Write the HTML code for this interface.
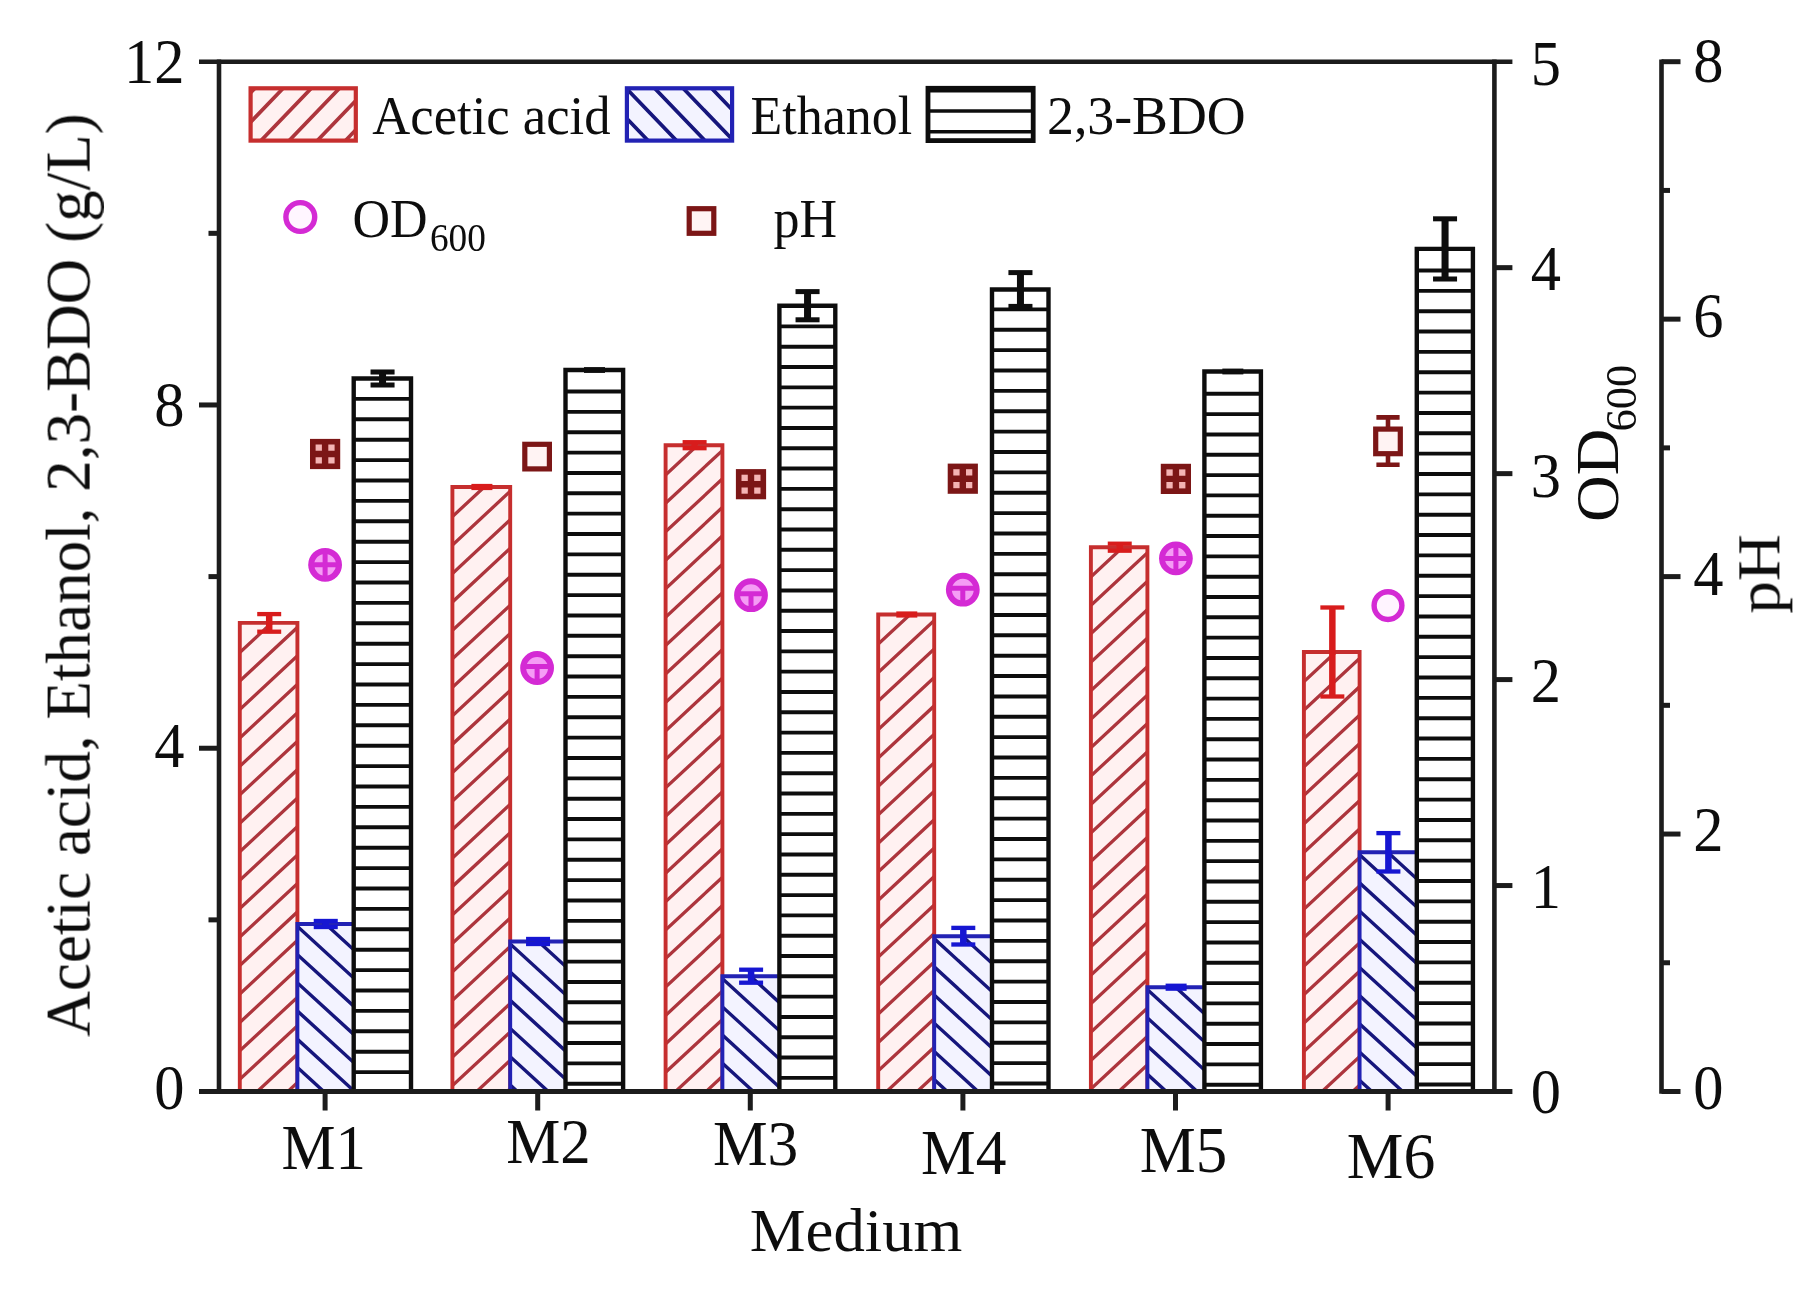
<!DOCTYPE html>
<html lang="en">
<head>
<meta charset="utf-8">
<title>Acetic acid, Ethanol, 2,3-BDO, OD600 and pH by medium</title>
<style>
html,body{margin:0;padding:0;background:#ffffff;}
body{width:1809px;height:1295px;overflow:hidden;}
svg{display:block;}
text{font-family:"Liberation Serif","Times New Roman",serif;fill:#111;}
</style>
</head>
<body>
<svg width="1809" height="1295" viewBox="0 0 1809 1295">
<defs><filter id="soft" x="0" y="0" width="1809" height="1295" filterUnits="userSpaceOnUse"><feGaussianBlur stdDeviation="0.6"/></filter></defs>
<rect x="0" y="0" width="1809" height="1295" fill="#ffffff"/>
<g filter="url(#soft)">

<g id="bars">
<rect x="239.80" y="622.90" width="57.60" height="468.60" fill="#fff1f1"/>
<clipPath id="c1"><rect x="239.80" y="622.90" width="57.60" height="468.60"/></clipPath>
<g clip-path="url(#c1)" stroke="#ad363c" stroke-width="3.3" fill="none">
<path d="M233.80 515.88L303.40 451.15M233.80 544.33L303.40 479.60M233.80 572.78L303.40 508.05M233.80 601.23L303.40 536.50M233.80 629.68L303.40 564.95M233.80 658.13L303.40 593.40M233.80 686.58L303.40 621.85M233.80 715.03L303.40 650.30M233.80 743.48L303.40 678.75M233.80 771.93L303.40 707.20M233.80 800.38L303.40 735.65M233.80 828.83L303.40 764.10M233.80 857.28L303.40 792.55M233.80 885.73L303.40 821.00M233.80 914.18L303.40 849.45M233.80 942.63L303.40 877.90M233.80 971.08L303.40 906.35M233.80 999.53L303.40 934.80M233.80 1027.98L303.40 963.25M233.80 1056.43L303.40 991.70M233.80 1084.88L303.40 1020.15M233.80 1113.33L303.40 1048.60M233.80 1141.78L303.40 1077.05"/>
</g>
<path d="M239.80 1091.50V622.90H297.40V1091.50" stroke="#c62f2f" stroke-width="3.9" fill="none"/>
<rect x="297.40" y="924.00" width="56.30" height="167.50" fill="#f3f3ff"/>
<clipPath id="c2"><rect x="297.40" y="924.00" width="56.30" height="167.50"/></clipPath>
<g clip-path="url(#c2)" stroke="#15157c" stroke-width="3.4" fill="none">
<path d="M291.40 808.11L359.70 870.60M291.40 836.31L359.70 898.80M291.40 864.51L359.70 927.00M291.40 892.71L359.70 955.20M291.40 920.91L359.70 983.40M291.40 949.11L359.70 1011.60M291.40 977.31L359.70 1039.80M291.40 1005.51L359.70 1068.00M291.40 1033.71L359.70 1096.20M291.40 1061.91L359.70 1124.40M291.40 1090.11L359.70 1152.60"/>
</g>
<path d="M297.40 1091.50V924.00H353.70" stroke="#2323b4" stroke-width="3.9" fill="none"/>
<rect x="353.70" y="378.50" width="57.30" height="713.00" fill="#ffffff" stroke="none"/>
<path d="M353.70 398.90H411.00M353.70 419.30H411.00M353.70 439.70H411.00M353.70 460.10H411.00M353.70 480.50H411.00M353.70 500.90H411.00M353.70 521.30H411.00M353.70 541.70H411.00M353.70 562.10H411.00M353.70 582.50H411.00M353.70 602.90H411.00M353.70 623.30H411.00M353.70 643.70H411.00M353.70 664.10H411.00M353.70 684.50H411.00M353.70 704.90H411.00M353.70 725.30H411.00M353.70 745.70H411.00M353.70 766.10H411.00M353.70 786.50H411.00M353.70 806.90H411.00M353.70 827.30H411.00M353.70 847.70H411.00M353.70 868.10H411.00M353.70 888.50H411.00M353.70 908.90H411.00M353.70 929.30H411.00M353.70 949.70H411.00M353.70 970.10H411.00M353.70 990.50H411.00M353.70 1010.90H411.00M353.70 1031.30H411.00M353.70 1051.70H411.00M353.70 1072.10H411.00" stroke="#111111" stroke-width="3.9" fill="none"/>
<path d="M353.70 1091.50V378.50H411.00V1091.50" stroke="#111111" stroke-width="4.4" fill="none" stroke-linejoin="miter"/>
<rect x="265.95" y="614.10" width="6.50" height="17.60" fill="#d81f1f"/>
<rect x="257.20" y="611.95" width="24.00" height="4.30" fill="#d81f1f"/>
<rect x="257.20" y="629.55" width="24.00" height="4.30" fill="#d81f1f"/>
<rect x="322.50" y="921.00" width="6.50" height="6.00" fill="#1414d2"/>
<rect x="313.75" y="918.85" width="24.00" height="4.30" fill="#1414d2"/>
<rect x="313.75" y="924.85" width="24.00" height="4.30" fill="#1414d2"/>
<rect x="379.05" y="372.00" width="7.00" height="13.00" fill="#0a0a0a"/>
<rect x="370.55" y="369.50" width="24.00" height="5.00" fill="#0a0a0a"/>
<rect x="370.55" y="382.50" width="24.00" height="5.00" fill="#0a0a0a"/>
<rect x="452.40" y="487.00" width="57.80" height="604.50" fill="#fff1f1"/>
<clipPath id="c3"><rect x="452.40" y="487.00" width="57.80" height="604.50"/></clipPath>
<g clip-path="url(#c3)" stroke="#ad363c" stroke-width="3.3" fill="none">
<path d="M446.40 379.98L516.20 315.07M446.40 408.43L516.20 343.52M446.40 436.88L516.20 371.97M446.40 465.33L516.20 400.42M446.40 493.78L516.20 428.87M446.40 522.23L516.20 457.32M446.40 550.68L516.20 485.77M446.40 579.13L516.20 514.22M446.40 607.58L516.20 542.67M446.40 636.03L516.20 571.12M446.40 664.48L516.20 599.57M446.40 692.93L516.20 628.02M446.40 721.38L516.20 656.47M446.40 749.83L516.20 684.92M446.40 778.28L516.20 713.37M446.40 806.73L516.20 741.82M446.40 835.18L516.20 770.27M446.40 863.63L516.20 798.72M446.40 892.08L516.20 827.17M446.40 920.53L516.20 855.62M446.40 948.98L516.20 884.07M446.40 977.43L516.20 912.52M446.40 1005.88L516.20 940.97M446.40 1034.33L516.20 969.42M446.40 1062.78L516.20 997.87M446.40 1091.23L516.20 1026.32M446.40 1119.68L516.20 1054.77M446.40 1148.13L516.20 1083.22"/>
</g>
<path d="M452.40 1091.50V487.00H510.20V1091.50" stroke="#c62f2f" stroke-width="3.9" fill="none"/>
<rect x="510.20" y="941.50" width="55.30" height="150.00" fill="#f3f3ff"/>
<clipPath id="c4"><rect x="510.20" y="941.50" width="55.30" height="150.00"/></clipPath>
<g clip-path="url(#c4)" stroke="#15157c" stroke-width="3.4" fill="none">
<path d="M504.20 825.61L571.50 887.19M504.20 853.81L571.50 915.39M504.20 882.01L571.50 943.59M504.20 910.21L571.50 971.79M504.20 938.41L571.50 999.99M504.20 966.61L571.50 1028.19M504.20 994.81L571.50 1056.39M504.20 1023.01L571.50 1084.59M504.20 1051.21L571.50 1112.79M504.20 1079.41L571.50 1140.99"/>
</g>
<path d="M510.20 1091.50V941.50H565.50" stroke="#2323b4" stroke-width="3.9" fill="none"/>
<rect x="565.50" y="370.00" width="57.60" height="721.50" fill="#ffffff" stroke="none"/>
<path d="M565.50 391.50H623.10M565.50 411.86H623.10M565.50 432.22H623.10M565.50 452.58H623.10M565.50 472.94H623.10M565.50 493.30H623.10M565.50 513.66H623.10M565.50 534.02H623.10M565.50 554.38H623.10M565.50 574.74H623.10M565.50 595.10H623.10M565.50 615.46H623.10M565.50 635.82H623.10M565.50 656.18H623.10M565.50 676.54H623.10M565.50 696.90H623.10M565.50 717.26H623.10M565.50 737.62H623.10M565.50 757.98H623.10M565.50 778.34H623.10M565.50 798.70H623.10M565.50 819.06H623.10M565.50 839.42H623.10M565.50 859.78H623.10M565.50 880.14H623.10M565.50 900.50H623.10M565.50 920.86H623.10M565.50 941.22H623.10M565.50 961.58H623.10M565.50 981.94H623.10M565.50 1002.30H623.10M565.50 1022.66H623.10M565.50 1043.02H623.10M565.50 1063.38H623.10M565.50 1083.74H623.10" stroke="#111111" stroke-width="3.9" fill="none"/>
<path d="M565.50 1091.50V370.00H623.10V1091.50" stroke="#111111" stroke-width="4.4" fill="none" stroke-linejoin="miter"/>
<rect x="471.40" y="483.90" width="21.00" height="6.20" fill="#d81f1f"/>
<rect x="534.80" y="939.00" width="6.50" height="5.00" fill="#1414d2"/>
<rect x="526.05" y="936.85" width="24.00" height="4.30" fill="#1414d2"/>
<rect x="526.05" y="941.85" width="24.00" height="4.30" fill="#1414d2"/>
<rect x="584.00" y="367.10" width="21.00" height="5.80" fill="#0a0a0a"/>
<rect x="665.60" y="445.20" width="56.80" height="646.30" fill="#fff1f1"/>
<clipPath id="c5"><rect x="665.60" y="445.20" width="56.80" height="646.30"/></clipPath>
<g clip-path="url(#c5)" stroke="#ad363c" stroke-width="3.3" fill="none">
<path d="M659.60 338.18L728.40 274.20M659.60 366.63L728.40 302.65M659.60 395.08L728.40 331.10M659.60 423.53L728.40 359.55M659.60 451.98L728.40 388.00M659.60 480.43L728.40 416.45M659.60 508.88L728.40 444.90M659.60 537.33L728.40 473.35M659.60 565.78L728.40 501.80M659.60 594.23L728.40 530.25M659.60 622.68L728.40 558.70M659.60 651.13L728.40 587.15M659.60 679.58L728.40 615.60M659.60 708.03L728.40 644.05M659.60 736.48L728.40 672.50M659.60 764.93L728.40 700.95M659.60 793.38L728.40 729.40M659.60 821.83L728.40 757.85M659.60 850.28L728.40 786.30M659.60 878.73L728.40 814.75M659.60 907.18L728.40 843.20M659.60 935.63L728.40 871.65M659.60 964.08L728.40 900.10M659.60 992.53L728.40 928.55M659.60 1020.98L728.40 957.00M659.60 1049.43L728.40 985.45M659.60 1077.88L728.40 1013.90M659.60 1106.33L728.40 1042.35M659.60 1134.78L728.40 1070.80"/>
</g>
<path d="M665.60 1091.50V445.20H722.40V1091.50" stroke="#c62f2f" stroke-width="3.9" fill="none"/>
<rect x="722.40" y="976.20" width="57.00" height="115.30" fill="#f3f3ff"/>
<clipPath id="c6"><rect x="722.40" y="976.20" width="57.00" height="115.30"/></clipPath>
<g clip-path="url(#c6)" stroke="#15157c" stroke-width="3.4" fill="none">
<path d="M716.40 860.31L785.40 923.45M716.40 888.51L785.40 951.64M716.40 916.71L785.40 979.85M716.40 944.91L785.40 1008.04M716.40 973.11L785.40 1036.25M716.40 1001.31L785.40 1064.45M716.40 1029.51L785.40 1092.64M716.40 1057.71L785.40 1120.85M716.40 1085.91L785.40 1149.05"/>
</g>
<path d="M722.40 1091.50V976.20H779.40" stroke="#2323b4" stroke-width="3.9" fill="none"/>
<rect x="779.40" y="305.70" width="55.90" height="785.80" fill="#ffffff" stroke="none"/>
<path d="M779.40 326.40H835.30M779.40 346.71H835.30M779.40 367.02H835.30M779.40 387.33H835.30M779.40 407.64H835.30M779.40 427.95H835.30M779.40 448.26H835.30M779.40 468.57H835.30M779.40 488.88H835.30M779.40 509.19H835.30M779.40 529.50H835.30M779.40 549.81H835.30M779.40 570.12H835.30M779.40 590.43H835.30M779.40 610.74H835.30M779.40 631.05H835.30M779.40 651.36H835.30M779.40 671.67H835.30M779.40 691.98H835.30M779.40 712.29H835.30M779.40 732.60H835.30M779.40 752.91H835.30M779.40 773.22H835.30M779.40 793.53H835.30M779.40 813.84H835.30M779.40 834.15H835.30M779.40 854.46H835.30M779.40 874.77H835.30M779.40 895.08H835.30M779.40 915.39H835.30M779.40 935.70H835.30M779.40 956.01H835.30M779.40 976.32H835.30M779.40 996.63H835.30M779.40 1016.94H835.30M779.40 1037.25H835.30M779.40 1057.56H835.30M779.40 1077.87H835.30" stroke="#111111" stroke-width="3.9" fill="none"/>
<path d="M779.40 1091.50V305.70H835.30V1091.50" stroke="#111111" stroke-width="4.4" fill="none" stroke-linejoin="miter"/>
<rect x="691.35" y="442.20" width="6.50" height="6.00" fill="#d81f1f"/>
<rect x="682.60" y="440.05" width="24.00" height="4.30" fill="#d81f1f"/>
<rect x="682.60" y="446.05" width="24.00" height="4.30" fill="#d81f1f"/>
<rect x="747.85" y="969.70" width="6.50" height="13.00" fill="#1414d2"/>
<rect x="739.10" y="967.55" width="24.00" height="4.30" fill="#1414d2"/>
<rect x="739.10" y="980.55" width="24.00" height="4.30" fill="#1414d2"/>
<rect x="804.05" y="291.60" width="7.00" height="28.20" fill="#0a0a0a"/>
<rect x="795.55" y="289.10" width="24.00" height="5.00" fill="#0a0a0a"/>
<rect x="795.55" y="317.30" width="24.00" height="5.00" fill="#0a0a0a"/>
<rect x="878.20" y="614.50" width="56.00" height="477.00" fill="#fff1f1"/>
<clipPath id="c7"><rect x="878.20" y="614.50" width="56.00" height="477.00"/></clipPath>
<g clip-path="url(#c7)" stroke="#ad363c" stroke-width="3.3" fill="none">
<path d="M872.20 507.48L940.20 444.24M872.20 535.93L940.20 472.69M872.20 564.38L940.20 501.14M872.20 592.83L940.20 529.59M872.20 621.28L940.20 558.04M872.20 649.73L940.20 586.49M872.20 678.18L940.20 614.94M872.20 706.63L940.20 643.39M872.20 735.08L940.20 671.84M872.20 763.53L940.20 700.29M872.20 791.98L940.20 728.74M872.20 820.43L940.20 757.19M872.20 848.88L940.20 785.64M872.20 877.33L940.20 814.09M872.20 905.78L940.20 842.54M872.20 934.23L940.20 870.99M872.20 962.68L940.20 899.44M872.20 991.13L940.20 927.89M872.20 1019.58L940.20 956.34M872.20 1048.03L940.20 984.79M872.20 1076.48L940.20 1013.24M872.20 1104.93L940.20 1041.69M872.20 1133.38L940.20 1070.14"/>
</g>
<path d="M878.20 1091.50V614.50H934.20V1091.50" stroke="#c62f2f" stroke-width="3.9" fill="none"/>
<rect x="934.20" y="936.20" width="57.80" height="155.30" fill="#f3f3ff"/>
<clipPath id="c8"><rect x="934.20" y="936.20" width="57.80" height="155.30"/></clipPath>
<g clip-path="url(#c8)" stroke="#15157c" stroke-width="3.4" fill="none">
<path d="M928.20 820.31L998.00 884.18M928.20 848.51L998.00 912.38M928.20 876.71L998.00 940.58M928.20 904.91L998.00 968.78M928.20 933.11L998.00 996.98M928.20 961.31L998.00 1025.18M928.20 989.51L998.00 1053.38M928.20 1017.71L998.00 1081.58M928.20 1045.91L998.00 1109.78M928.20 1074.11L998.00 1137.98"/>
</g>
<path d="M934.20 1091.50V936.20H992.00" stroke="#2323b4" stroke-width="3.9" fill="none"/>
<rect x="992.00" y="289.50" width="56.50" height="802.00" fill="#ffffff" stroke="none"/>
<path d="M992.00 309.40H1048.50M992.00 329.77H1048.50M992.00 350.14H1048.50M992.00 370.51H1048.50M992.00 390.88H1048.50M992.00 411.25H1048.50M992.00 431.62H1048.50M992.00 451.99H1048.50M992.00 472.36H1048.50M992.00 492.73H1048.50M992.00 513.10H1048.50M992.00 533.47H1048.50M992.00 553.84H1048.50M992.00 574.21H1048.50M992.00 594.58H1048.50M992.00 614.95H1048.50M992.00 635.32H1048.50M992.00 655.69H1048.50M992.00 676.06H1048.50M992.00 696.43H1048.50M992.00 716.80H1048.50M992.00 737.17H1048.50M992.00 757.54H1048.50M992.00 777.91H1048.50M992.00 798.28H1048.50M992.00 818.65H1048.50M992.00 839.02H1048.50M992.00 859.39H1048.50M992.00 879.76H1048.50M992.00 900.13H1048.50M992.00 920.50H1048.50M992.00 940.87H1048.50M992.00 961.24H1048.50M992.00 981.61H1048.50M992.00 1001.98H1048.50M992.00 1022.35H1048.50M992.00 1042.72H1048.50M992.00 1063.09H1048.50M992.00 1083.46H1048.50" stroke="#111111" stroke-width="3.9" fill="none"/>
<path d="M992.00 1091.50V289.50H1048.50V1091.50" stroke="#111111" stroke-width="4.4" fill="none" stroke-linejoin="miter"/>
<rect x="896.30" y="611.40" width="21.00" height="6.20" fill="#d81f1f"/>
<rect x="960.05" y="927.90" width="6.50" height="16.60" fill="#1414d2"/>
<rect x="951.30" y="925.75" width="24.00" height="4.30" fill="#1414d2"/>
<rect x="951.30" y="942.35" width="24.00" height="4.30" fill="#1414d2"/>
<rect x="1016.95" y="272.60" width="7.00" height="33.80" fill="#0a0a0a"/>
<rect x="1008.45" y="270.10" width="24.00" height="5.00" fill="#0a0a0a"/>
<rect x="1008.45" y="303.90" width="24.00" height="5.00" fill="#0a0a0a"/>
<rect x="1090.90" y="547.20" width="56.50" height="544.30" fill="#fff1f1"/>
<clipPath id="c9"><rect x="1090.90" y="547.20" width="56.50" height="544.30"/></clipPath>
<g clip-path="url(#c9)" stroke="#ad363c" stroke-width="3.3" fill="none">
<path d="M1084.90 440.18L1153.40 376.48M1084.90 468.63L1153.40 404.93M1084.90 497.08L1153.40 433.38M1084.90 525.53L1153.40 461.83M1084.90 553.98L1153.40 490.28M1084.90 582.43L1153.40 518.73M1084.90 610.88L1153.40 547.18M1084.90 639.33L1153.40 575.63M1084.90 667.78L1153.40 604.08M1084.90 696.23L1153.40 632.53M1084.90 724.68L1153.40 660.98M1084.90 753.13L1153.40 689.43M1084.90 781.58L1153.40 717.88M1084.90 810.03L1153.40 746.33M1084.90 838.48L1153.40 774.78M1084.90 866.93L1153.40 803.23M1084.90 895.38L1153.40 831.68M1084.90 923.83L1153.40 860.12M1084.90 952.28L1153.40 888.58M1084.90 980.73L1153.40 917.03M1084.90 1009.18L1153.40 945.48M1084.90 1037.63L1153.40 973.93M1084.90 1066.08L1153.40 1002.38M1084.90 1094.53L1153.40 1030.83M1084.90 1122.98L1153.40 1059.28M1084.90 1151.43L1153.40 1087.72"/>
</g>
<path d="M1090.90 1091.50V547.20H1147.40V1091.50" stroke="#c62f2f" stroke-width="3.9" fill="none"/>
<rect x="1147.40" y="987.20" width="57.00" height="104.30" fill="#f3f3ff"/>
<clipPath id="c10"><rect x="1147.40" y="987.20" width="57.00" height="104.30"/></clipPath>
<g clip-path="url(#c10)" stroke="#15157c" stroke-width="3.4" fill="none">
<path d="M1141.40 871.31L1210.40 934.45M1141.40 899.51L1210.40 962.64M1141.40 927.71L1210.40 990.85M1141.40 955.91L1210.40 1019.04M1141.40 984.11L1210.40 1047.25M1141.40 1012.31L1210.40 1075.45M1141.40 1040.51L1210.40 1103.64M1141.40 1068.71L1210.40 1131.85"/>
</g>
<path d="M1147.40 1091.50V987.20H1204.40" stroke="#2323b4" stroke-width="3.9" fill="none"/>
<rect x="1204.40" y="371.50" width="56.50" height="720.00" fill="#ffffff" stroke="none"/>
<path d="M1204.40 393.80H1260.90M1204.40 414.12H1260.90M1204.40 434.44H1260.90M1204.40 454.76H1260.90M1204.40 475.08H1260.90M1204.40 495.40H1260.90M1204.40 515.72H1260.90M1204.40 536.04H1260.90M1204.40 556.36H1260.90M1204.40 576.68H1260.90M1204.40 597.00H1260.90M1204.40 617.32H1260.90M1204.40 637.64H1260.90M1204.40 657.96H1260.90M1204.40 678.28H1260.90M1204.40 698.60H1260.90M1204.40 718.92H1260.90M1204.40 739.24H1260.90M1204.40 759.56H1260.90M1204.40 779.88H1260.90M1204.40 800.20H1260.90M1204.40 820.52H1260.90M1204.40 840.84H1260.90M1204.40 861.16H1260.90M1204.40 881.48H1260.90M1204.40 901.80H1260.90M1204.40 922.12H1260.90M1204.40 942.44H1260.90M1204.40 962.76H1260.90M1204.40 983.08H1260.90M1204.40 1003.40H1260.90M1204.40 1023.72H1260.90M1204.40 1044.04H1260.90M1204.40 1064.36H1260.90M1204.40 1084.68H1260.90" stroke="#111111" stroke-width="3.9" fill="none"/>
<path d="M1204.40 1091.50V371.50H1260.90V1091.50" stroke="#111111" stroke-width="4.4" fill="none" stroke-linejoin="miter"/>
<rect x="1116.50" y="543.70" width="6.50" height="7.00" fill="#d81f1f"/>
<rect x="1107.75" y="541.55" width="24.00" height="4.30" fill="#d81f1f"/>
<rect x="1107.75" y="548.55" width="24.00" height="4.30" fill="#d81f1f"/>
<rect x="1165.60" y="983.60" width="21.00" height="7.20" fill="#1414d2"/>
<rect x="1222.35" y="368.60" width="21.00" height="5.80" fill="#0a0a0a"/>
<rect x="1303.90" y="652.00" width="55.70" height="439.50" fill="#fff1f1"/>
<clipPath id="c11"><rect x="1303.90" y="652.00" width="55.70" height="439.50"/></clipPath>
<g clip-path="url(#c11)" stroke="#ad363c" stroke-width="3.3" fill="none">
<path d="M1297.90 544.98L1365.60 482.02M1297.90 573.43L1365.60 510.47M1297.90 601.88L1365.60 538.92M1297.90 630.33L1365.60 567.37M1297.90 658.78L1365.60 595.82M1297.90 687.23L1365.60 624.27M1297.90 715.68L1365.60 652.72M1297.90 744.13L1365.60 681.17M1297.90 772.58L1365.60 709.62M1297.90 801.03L1365.60 738.07M1297.90 829.48L1365.60 766.52M1297.90 857.93L1365.60 794.97M1297.90 886.38L1365.60 823.42M1297.90 914.83L1365.60 851.87M1297.90 943.28L1365.60 880.32M1297.90 971.73L1365.60 908.77M1297.90 1000.18L1365.60 937.22M1297.90 1028.63L1365.60 965.67M1297.90 1057.08L1365.60 994.12M1297.90 1085.53L1365.60 1022.57M1297.90 1113.98L1365.60 1051.02M1297.90 1142.43L1365.60 1079.47"/>
</g>
<path d="M1303.90 1091.50V652.00H1359.60V1091.50" stroke="#c62f2f" stroke-width="3.9" fill="none"/>
<rect x="1359.60" y="852.30" width="57.20" height="239.20" fill="#f3f3ff"/>
<clipPath id="c12"><rect x="1359.60" y="852.30" width="57.20" height="239.20"/></clipPath>
<g clip-path="url(#c12)" stroke="#15157c" stroke-width="3.4" fill="none">
<path d="M1353.60 736.41L1422.80 799.73M1353.60 764.61L1422.80 827.93M1353.60 792.81L1422.80 856.13M1353.60 821.01L1422.80 884.33M1353.60 849.21L1422.80 912.53M1353.60 877.41L1422.80 940.73M1353.60 905.61L1422.80 968.93M1353.60 933.81L1422.80 997.13M1353.60 962.01L1422.80 1025.33M1353.60 990.21L1422.80 1053.53M1353.60 1018.41L1422.80 1081.73M1353.60 1046.61L1422.80 1109.93M1353.60 1074.81L1422.80 1138.13"/>
</g>
<path d="M1359.60 1091.50V852.30H1416.80" stroke="#2323b4" stroke-width="3.9" fill="none"/>
<rect x="1416.80" y="248.90" width="56.10" height="842.60" fill="#ffffff" stroke="none"/>
<path d="M1416.80 270.50H1472.90M1416.80 290.85H1472.90M1416.80 311.20H1472.90M1416.80 331.55H1472.90M1416.80 351.90H1472.90M1416.80 372.25H1472.90M1416.80 392.60H1472.90M1416.80 412.95H1472.90M1416.80 433.30H1472.90M1416.80 453.65H1472.90M1416.80 474.00H1472.90M1416.80 494.35H1472.90M1416.80 514.70H1472.90M1416.80 535.05H1472.90M1416.80 555.40H1472.90M1416.80 575.75H1472.90M1416.80 596.10H1472.90M1416.80 616.45H1472.90M1416.80 636.80H1472.90M1416.80 657.15H1472.90M1416.80 677.50H1472.90M1416.80 697.85H1472.90M1416.80 718.20H1472.90M1416.80 738.55H1472.90M1416.80 758.90H1472.90M1416.80 779.25H1472.90M1416.80 799.60H1472.90M1416.80 819.95H1472.90M1416.80 840.30H1472.90M1416.80 860.65H1472.90M1416.80 881.00H1472.90M1416.80 901.35H1472.90M1416.80 921.70H1472.90M1416.80 942.05H1472.90M1416.80 962.40H1472.90M1416.80 982.75H1472.90M1416.80 1003.10H1472.90M1416.80 1023.45H1472.90M1416.80 1043.80H1472.90M1416.80 1064.15H1472.90M1416.80 1084.50H1472.90" stroke="#111111" stroke-width="3.9" fill="none"/>
<path d="M1416.80 1091.50V248.90H1472.90V1091.50" stroke="#111111" stroke-width="4.4" fill="none" stroke-linejoin="miter"/>
<rect x="1329.10" y="607.50" width="6.50" height="89.00" fill="#d81f1f"/>
<rect x="1320.35" y="605.35" width="24.00" height="4.30" fill="#d81f1f"/>
<rect x="1320.35" y="694.35" width="24.00" height="4.30" fill="#d81f1f"/>
<rect x="1385.15" y="833.10" width="6.50" height="38.40" fill="#1414d2"/>
<rect x="1376.40" y="830.95" width="24.00" height="4.30" fill="#1414d2"/>
<rect x="1376.40" y="869.35" width="24.00" height="4.30" fill="#1414d2"/>
<rect x="1441.55" y="218.80" width="7.00" height="60.20" fill="#0a0a0a"/>
<rect x="1433.05" y="216.30" width="24.00" height="5.00" fill="#0a0a0a"/>
<rect x="1433.05" y="276.50" width="24.00" height="5.00" fill="#0a0a0a"/>
</g>
<g id="markers">
<rect x="312.80" y="441.70" width="24.6" height="24.6" fill="#f4b4b4" stroke="#7c1616" stroke-width="5.6"/>
<path d="M312.80 454.00H337.40M325.10 441.70V466.30" stroke="#7c1616" stroke-width="6.4" fill="none"/>
<circle cx="325.10" cy="564.80" r="13.9" fill="#f59cf5" stroke="#d42ad4" stroke-width="6.0"/>
<path d="M311.20 564.80H339.00M325.10 550.90V578.70" stroke="#d42ad4" stroke-width="5.0" fill="none"/>
<rect x="524.80" y="444.30" width="24.6" height="24.6" fill="#fff3f3" stroke="#7c1616" stroke-width="5.2"/>
<circle cx="537.10" cy="668.00" r="13.9" fill="#f59cf5" stroke="#d42ad4" stroke-width="6.0"/>
<path d="M523.20 666.50H551.00M537.10 666.50V681.90" stroke="#d42ad4" stroke-width="5.0" fill="none"/>
<rect x="738.70" y="471.90" width="24.6" height="24.6" fill="#f4b4b4" stroke="#7c1616" stroke-width="5.6"/>
<path d="M738.70 484.20H763.30M751.00 471.90V496.50" stroke="#7c1616" stroke-width="6.4" fill="none"/>
<circle cx="751.00" cy="595.20" r="13.9" fill="#f59cf5" stroke="#d42ad4" stroke-width="6.0"/>
<path d="M737.10 593.70H764.90M751.00 593.70V609.10" stroke="#d42ad4" stroke-width="5.0" fill="none"/>
<rect x="950.50" y="466.40" width="24.6" height="24.6" fill="#f4b4b4" stroke="#7c1616" stroke-width="5.6"/>
<path d="M950.50 478.70H975.10M962.80 466.40V491.00" stroke="#7c1616" stroke-width="6.4" fill="none"/>
<circle cx="962.80" cy="589.70" r="13.9" fill="#f59cf5" stroke="#d42ad4" stroke-width="6.0"/>
<path d="M948.90 588.20H976.70M962.80 588.20V603.60" stroke="#d42ad4" stroke-width="5.0" fill="none"/>
<rect x="1163.60" y="466.60" width="24.6" height="24.6" fill="#f4b4b4" stroke="#7c1616" stroke-width="5.6"/>
<path d="M1163.60 478.90H1188.20M1175.90 466.60V491.20" stroke="#7c1616" stroke-width="6.4" fill="none"/>
<circle cx="1175.90" cy="558.40" r="13.9" fill="#f59cf5" stroke="#d42ad4" stroke-width="6.0"/>
<path d="M1162.00 558.40H1189.80M1175.90 544.50V572.30" stroke="#d42ad4" stroke-width="5.0" fill="none"/>
<path d="M1388.00 417.40V464.90M1376.40 417.40H1399.60M1376.40 464.70H1399.60" stroke="#7c1616" stroke-width="4.6" fill="none"/>
<rect x="1375.70" y="429.10" width="24.6" height="24.6" fill="#fff3f3" stroke="#7c1616" stroke-width="5.2"/>
<circle cx="1388.00" cy="605.60" r="13.9" fill="#fff4ff" stroke="#d42ad4" stroke-width="5.4"/>
</g>
<g id="axes" stroke="#1c1c1c" fill="none" stroke-width="4.6">
<path d="M219.00 59.40V1093.80"/>
<path d="M199.00 61.70H1512.40"/>
<path d="M199.00 1091.50H1512.40" stroke-width="5.2"/>
<path d="M199.00 748.23H219.00" stroke-width="5.0"/>
<path d="M199.00 404.97H219.00" stroke-width="5.0"/>
<path d="M208.50 919.87H219.00" stroke-width="5.0"/>
<path d="M208.50 576.60H219.00" stroke-width="5.0"/>
<path d="M208.50 233.33H219.00" stroke-width="5.0"/>
<path d="M1494.40 59.40V1093.80"/>
<path d="M1494.40 885.54H1512.40" stroke-width="5.0"/>
<path d="M1494.40 679.58H1512.40" stroke-width="5.0"/>
<path d="M1494.40 473.62H1512.40" stroke-width="5.0"/>
<path d="M1494.40 267.66H1512.40" stroke-width="5.0"/>
<path d="M1661.50 59.40V1093.80"/>
<path d="M1661.50 1091.50H1680.50" stroke-width="5.0"/>
<path d="M1661.50 834.05H1680.50" stroke-width="5.0"/>
<path d="M1661.50 576.60H1680.50" stroke-width="5.0"/>
<path d="M1661.50 319.15H1680.50" stroke-width="5.0"/>
<path d="M1661.50 61.70H1680.50" stroke-width="5.0"/>
<path d="M1661.50 962.77H1670.00" stroke-width="5.0"/>
<path d="M1661.50 705.33H1670.00" stroke-width="5.0"/>
<path d="M1661.50 447.88H1670.00" stroke-width="5.0"/>
<path d="M1661.50 190.43H1670.00" stroke-width="5.0"/>
<path d="M325.10 1091.50V1110.50" stroke-width="5.0"/>
<path d="M537.70 1091.50V1110.50" stroke-width="5.0"/>
<path d="M750.30 1091.50V1110.50" stroke-width="5.0"/>
<path d="M962.90 1091.50V1110.50" stroke-width="5.0"/>
<path d="M1175.50 1091.50V1110.50" stroke-width="5.0"/>
<path d="M1388.10 1091.50V1110.50" stroke-width="5.0"/>
</g>
<g id="labels">
<text transform="translate(184.50 83.00) scale(0.945 1)" font-size="64" text-anchor="end">12</text>
<text transform="translate(184.50 425.50) scale(0.945 1)" font-size="64" text-anchor="end">8</text>
<text transform="translate(184.50 767.00) scale(0.945 1)" font-size="64" text-anchor="end">4</text>
<text transform="translate(184.50 1109.00) scale(0.945 1)" font-size="64" text-anchor="end">0</text>
<text transform="translate(1530.80 84.50) scale(0.945 1)" font-size="64" text-anchor="start">5</text>
<text transform="translate(1530.80 290.40) scale(0.945 1)" font-size="64" text-anchor="start">4</text>
<text transform="translate(1530.80 497.30) scale(0.945 1)" font-size="64" text-anchor="start">3</text>
<text transform="translate(1530.80 701.90) scale(0.945 1)" font-size="64" text-anchor="start">2</text>
<text transform="translate(1530.80 908.20) scale(0.945 1)" font-size="64" text-anchor="start">1</text>
<text transform="translate(1530.80 1113.00) scale(0.945 1)" font-size="64" text-anchor="start">0</text>
<text transform="translate(1693.20 82.00) scale(0.945 1)" font-size="64" text-anchor="start">8</text>
<text transform="translate(1693.20 337.30) scale(0.945 1)" font-size="64" text-anchor="start">6</text>
<text transform="translate(1693.20 594.70) scale(0.945 1)" font-size="64" text-anchor="start">4</text>
<text transform="translate(1693.20 851.40) scale(0.945 1)" font-size="64" text-anchor="start">2</text>
<text transform="translate(1693.20 1108.80) scale(0.945 1)" font-size="64" text-anchor="start">0</text>
<text transform="translate(281.40 1169.40) scale(0.95 1)" font-size="64" text-anchor="start">M1</text>
<text transform="translate(506.20 1163.10) scale(0.95 1)" font-size="64" text-anchor="start">M2</text>
<text transform="translate(713.00 1165.30) scale(0.96 1)" font-size="64" text-anchor="start">M3</text>
<text transform="translate(921.10 1173.90) scale(0.96 1)" font-size="64" text-anchor="start">M4</text>
<text transform="translate(1139.80 1172.00) scale(0.955 1)" font-size="66" text-anchor="start">M5</text>
<text transform="translate(1346.80 1178.40) scale(0.965 1)" font-size="66" text-anchor="start">M6</text>
<text transform="translate(749.80 1251.00) scale(1.012 1)" font-size="62.0" text-anchor="start">Medium</text>
<text transform="translate(89.60 1036.60) scale(1.0 1) rotate(-90)" font-size="63.1" text-anchor="start">Acetic acid, Ethanol, 2,3-BDO (g/L)</text>
<text transform="translate(1618.00 522.00) scale(0.945 1) rotate(-90)" font-size="64.6" text-anchor="start">OD</text>
<text transform="translate(1636.00 431.60) scale(1.0 1) rotate(-90)" font-size="44.5" text-anchor="start">600</text>
<text transform="translate(1779.20 613.60) scale(0.945 1) rotate(-90)" font-size="65" text-anchor="start">pH</text>
</g>
<g id="legend">
<rect x="250.6" y="88.3" width="105.2" height="52.3" fill="#fff1f1"/>
<clipPath id="c13"><rect x="250.60" y="88.30" width="105.20" height="52.30"/></clipPath>
<g clip-path="url(#c13)" stroke="#ad363c" stroke-width="3.7" fill="none">
<path d="M244.60 -18.16L361.80 -140.05M244.60 11.14L361.80 -110.75M244.60 40.44L361.80 -81.45M244.60 69.74L361.80 -52.15M244.60 99.04L361.80 -22.85M244.60 128.34L361.80 6.45M244.60 157.64L361.80 35.75M244.60 186.94L361.80 65.05M244.60 216.24L361.80 94.35M244.60 245.54L361.80 123.65"/>
</g>
<rect x="250.6" y="88.3" width="105.2" height="52.3" fill="none" stroke="#c62f2f" stroke-width="4.2"/>
<rect x="626.9" y="88.3" width="105.2" height="52.3" fill="#f3f3ff"/>
<clipPath id="c14"><rect x="626.90" y="88.30" width="105.20" height="52.30"/></clipPath>
<g clip-path="url(#c14)" stroke="#15157c" stroke-width="3.7" fill="none">
<path d="M620.90 -35.64L738.10 86.25M620.90 -6.04L738.10 115.85M620.90 23.56L738.10 145.45M620.90 53.16L738.10 175.05M620.90 82.76L738.10 204.65M620.90 112.36L738.10 234.25"/>
</g>
<rect x="626.9" y="88.3" width="105.2" height="52.3" fill="none" stroke="#2323b4" stroke-width="4.2"/>
<rect x="928.0" y="88.3" width="105.2" height="52.3" fill="#ffffff"/>
<path d="M928.0 111.0H1033.2M928.0 131.8H1033.2" stroke="#111111" stroke-width="3.6" fill="none"/>
<rect x="928.0" y="88.3" width="105.2" height="52.3" fill="none" stroke="#111111" stroke-width="4.8"/>
<path d="M928.0 90.89999999999999H1033.2" stroke="#111111" stroke-width="3.0" fill="none"/>
<text transform="translate(372.30 134.20) scale(0.957 1)" font-size="55" text-anchor="start">Acetic acid</text>
<text transform="translate(750.50 134.20) scale(0.945 1)" font-size="55" text-anchor="start">Ethanol</text>
<text transform="translate(1047.00 134.20) scale(0.978 1)" font-size="55" text-anchor="start">2,3-BDO</text>
<circle cx="300.3" cy="217.0" r="14.4" fill="#fff6ff" stroke="#d42ad4" stroke-width="5.4"/>
<text transform="translate(352.50 236.80) scale(0.945 1)" font-size="55" text-anchor="start">OD<tspan font-size="39.5" dx="2.5" dy="14">600</tspan></text>
<rect x="689.2" y="208.7" width="24.6" height="24.6" fill="#fff4f4" stroke="#7c1616" stroke-width="5.2"/>
<text transform="translate(773.50 237.20) scale(0.945 1)" font-size="55" text-anchor="start">pH</text>
</g>
</g>
</svg>
</body>
</html>
